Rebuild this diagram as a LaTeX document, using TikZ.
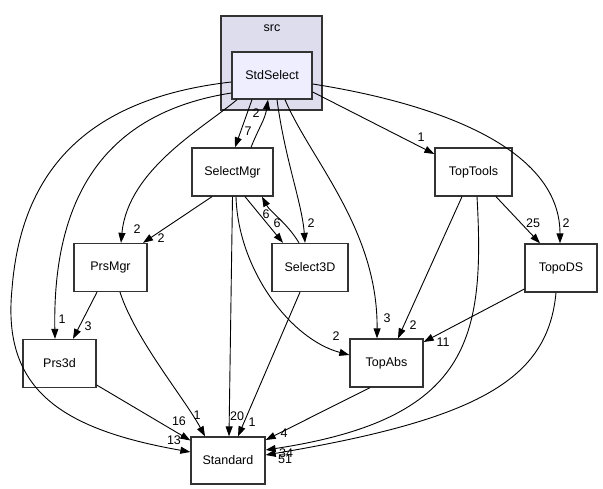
\documentclass[tikz,border=0pt]{standalone}
\usepackage{fontspec}
\setmainfont{Liberation Sans}
\usetikzlibrary{arrows.meta}
\definecolor{clusterfill}{HTML}{DDDDEE}
\definecolor{dirfill}{HTML}{EEEEFF}
\begin{document}
\begin{tikzpicture}[x=1pt,y=1pt,font=\fontsize{12.5}{14}\selectfont,
    dir/.style={draw=black!80,line width=1.3pt,fill=white,inner sep=0,minimum width=#1,minimum height=48pt},
    lbl/.style={inner sep=0,font=\fontsize{12.5}{14}\selectfont},
    every path/.style={line width=0.9pt},
    dep/.style={draw,-{Triangle[length=10pt,width=7pt]}}]
  \useasboundingbox (0,0) rectangle (603,489);
  \draw[fill=clusterfill,draw=black!80,line width=1.3pt] (221,379) rectangle (322,473);
  \node[inner sep=0] (src) at (272,461) {src};
  \node[dir=80pt,fill=dirfill,minimum height=47pt] (std) at (272,413.5) {StdSelect};
  \node[dir=81pt] (selmgr) at (232.5,317) {SelectMgr};
  \node[dir=76pt] (sel3d) at (310,221.5) {Select3D};
  \node[dir=77pt] (toptools) at (473.5,317) {TopTools};
  \node[dir=72pt] (topods) at (561,221) {TopoDS};
  \node[dir=73pt] (topabs) at (386.5,126) {TopAbs};
  \node[dir=73pt] (prsmgr) at (110.5,221.5) {PrsMgr};
  \node[dir=73pt] (prs3d) at (59.5,125.5) {Prs3d};
  \node[dir=74pt,minimum height=47pt] (standard) at (228,28.5) {Standard};
  % from StdSelect
  \draw[dep] ([xshift=-20pt]std.south) -- ([xshift=2.5pt]selmgr.north);
  \draw[dep] ([xshift=18.5pt]selmgr.north) .. controls +(8,20) and +(-3,-20) .. ([xshift=-4pt]std.south);
  \draw[dep] ([xshift=5pt]std.south) .. controls +(8,-60) and +(-3,40) .. ([xshift=-5pt]sel3d.north);
  \draw[dep] ([xshift=13pt]std.south) .. controls (310,330) and (378,260) .. ([xshift=-9.5pt]topabs.north);
  \draw[dep] ([yshift=-16.5pt]std.east) -- ([yshift=18pt]toptools.west);
  \draw[dep] ([yshift=-8.5pt]std.east) .. controls (440,385) and (560,340) .. ([xshift=-1pt]topods.north);
  \draw[dep] ([xshift=-35pt]std.south) .. controls (205,362) and (128,320) .. ([xshift=10.5pt]prsmgr.north);
  \draw[dep] ([yshift=-17.5pt]std.west) .. controls (130,380) and (52,320) .. ([xshift=-4.5pt]prs3d.north);
  \draw[dep] ([yshift=-6.5pt]std.west) .. controls (100,392) and (22,330) .. (12,200)
    .. controls (2,100) and (60,60) .. ([yshift=8.5pt]standard.west);
  % from SelectMgr
  \draw[dep] ([xshift=-20.5pt]selmgr.south) -- ([xshift=32.5pt]prsmgr.north);
  \draw[dep] ([xshift=12.5pt]selmgr.south) -- ([xshift=-27pt]sel3d.north);
  \draw[dep] ([xshift=-11pt]sel3d.north) .. controls +(-12,20) and +(8,-15) .. ([xshift=29.5pt]selmgr.south);
  \draw[dep] ([xshift=3.5pt]selmgr.south) .. controls (238,220) and (290,150) .. ([yshift=8pt]topabs.west);
  \draw[dep] (selmgr.south) -- ([xshift=1pt]standard.north);
  % lower levels
  \draw[dep] ([xshift=-10pt]sel3d.south) -- ([xshift=10pt]standard.north);
  \draw[dep] ([xshift=-13.5pt]prsmgr.south) -- ([xshift=13.5pt]prs3d.north);
  \draw[dep] ([xshift=9.5pt]prsmgr.south) .. controls (135,150) and (185,90) .. ([xshift=-23pt]standard.north);
  \draw[dep] ([yshift=-21.5pt]prs3d.east) -- ([yshift=20pt]standard.west);
  \draw[dep] ([xshift=-16.5pt]topabs.south) -- ([yshift=20.5pt]standard.east);
  \draw[dep] ([xshift=3.5pt]toptools.south) .. controls (485,150) and (470,70) .. ([yshift=10.5pt]standard.east);
  \draw[dep] ([xshift=-11.5pt]toptools.south) -- ([xshift=11.5pt]topabs.north);
  \draw[dep] ([xshift=22.5pt]toptools.south) -- ([xshift=-21pt]topods.north);
  \draw[dep] ([yshift=-21pt]topods.west) -- ([yshift=21pt]topabs.east);
  \draw[dep] ([xshift=-5pt]topods.south) .. controls (548,110) and (480,70) .. ([yshift=5.5pt]standard.east);
  % counts
  \foreach \n/\t/\x/\y in {a/7/248/358, b/2/256/376, c/2/311/266, d/6/266/275, e/6/277/266,
      f/3/387/171, g/2/413/164, h/2/336/153, i/11/443/147, j/1/421/352, k/25/533/266,
      l/2/566/266, m/2/137/260, n/2/161/251, o/1/62/170, p/3/88/163, q/16/179/68,
      r/13/174/49, s/1/197/74, t/20/237/73, u/1/252/67, v/4/284/56, w/34/286/36, x/51/285/30}
    \node[lbl] (l\n) at (\x,\y) {\t};
\end{tikzpicture}
\end{document}
